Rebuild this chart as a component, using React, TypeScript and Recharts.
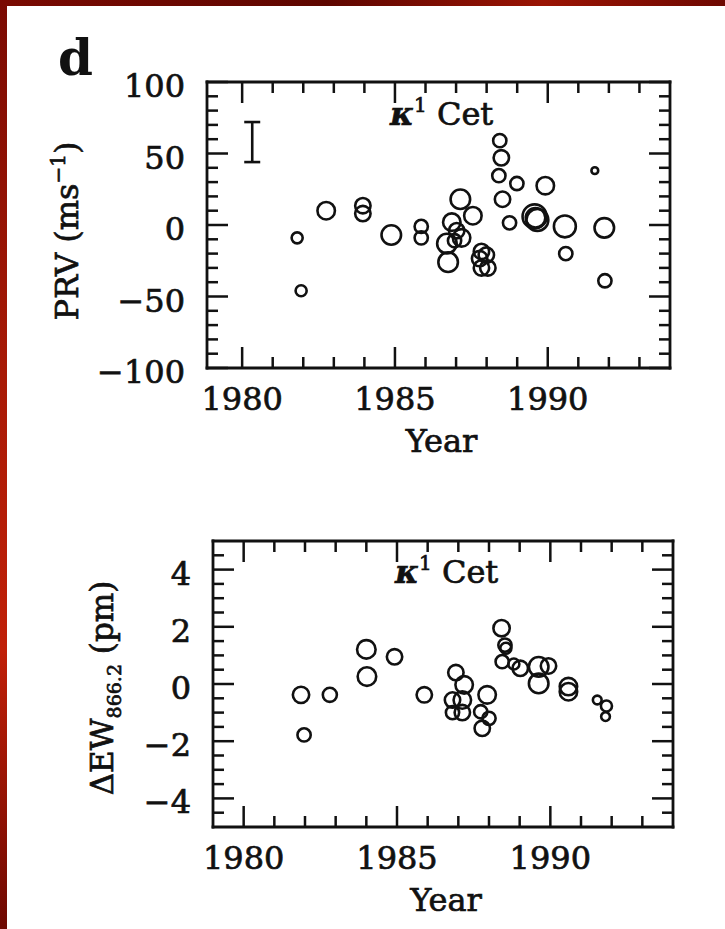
import { ScatterChart, Scatter, XAxis, YAxis, ZAxis, ErrorBar } from "recharts";

const FONT = "'DejaVu Serif', serif";
const INK = "#111";
const TXT = { fill: INK, stroke: INK, strokeWidth: 0.7 };

// PRV panel (kappa1 Cet): year, velocity (m/s), point weight
const prvYears = [
  1981.8, 1981.93, 1982.75, 1983.95, 1983.95, 1984.88, 1985.86, 1985.86,
  1987.14, 1987.55, 1986.86, 1986.7, 1986.74, 1987.02, 1987.18, 1986.95,
  1987.83, 1987.99, 1987.77, 1987.83, 1988.04,
  1988.43, 1988.48, 1988.4, 1988.52, 1988.75, 1988.99,
  1989.92, 1989.57, 1989.66, 1989.6, 1990.56, 1990.59,
  1991.54, 1991.85, 1991.87,
];
const prvValues = [
  -9, -46, 10, 13.5, 8, -7, -1, -9,
  18, 6.5, 2, -13, -26, -4, -9, -11,
  -18.5, -21, -23.5, -30, -30,
  59, 47, 34.5, 18, 1.5, 29,
  27.5, 6, 3.5, 5, -1, -20,
  38, -2, -39,
];
const prvWeights = [
  1.6, 1.6, 4, 3.1, 3.1, 5, 2.3, 2.3,
  5, 4, 4, 5, 5, 3.1, 4, 2.3,
  3.1, 3.1, 3.1, 3.1, 3.1,
  2.3, 3.1, 2.3, 3.1, 2.3, 2.3,
  4, 7.6, 6.3, 5, 6.3, 2.3,
  0.6, 5, 2.3,
];

// typical PRV uncertainty, drawn as the bar at upper left
const errYears = [1980.33];
const errValues = [58];
const errHalf = [14];

// Ca II 866.2 equivalent-width panel
const ewYears = [
  1981.87, 1981.97, 1982.81, 1984.0, 1984.02, 1984.92, 1985.89,
  1986.92, 1987.19, 1986.81, 1987.13, 1986.81, 1987.13,
  1987.94, 1987.73, 1988.0, 1987.78,
  1988.41, 1988.52, 1988.55, 1988.43, 1988.81, 1989.02,
  1989.62, 1989.62, 1989.94, 1990.59, 1990.59,
  1991.53, 1991.83, 1991.8,
];
const ewValues = [
  -0.38, -1.78, -0.38, 1.21, 0.26, 0.95, -0.38,
  0.4, -0.03, -0.56, -0.56, -1.0, -1.0,
  -0.38, -0.97, -1.2, -1.55,
  1.95, 1.36, 1.25, 0.78, 0.7, 0.55,
  0.6, 0.02, 0.63, -0.09, -0.27,
  -0.56, -0.77, -1.14,
];
const ewWeights = [
  3.5, 2.3, 2.6, 4.5, 4.5, 3.1, 3.1,
  3.1, 4, 3.1, 4, 2.3, 3.1,
  4, 2.3, 2.3, 3.1,
  3.5, 2.3, 1.6, 2.3, 1.6, 3.1,
  5, 5, 3.1, 4, 4,
  1, 1.6, 1,
];

const yearTicks = [1980, 1981, 1982, 1983, 1984, 1985, 1986, 1987, 1988, 1989, 1990, 1991, 1992, 1993];
const yearMajor = [1980, 1985, 1990];
const prvTicks = [-100, -90, -80, -70, -60, -50, -40, -30, -20, -10, 0, 10, 20, 30, 40, 50, 60, 70, 80, 90, 100];
const prvMajor = [-100, -50, 0, 50, 100];
const ewTicks = [-4.5, -4, -3.5, -3, -2.5, -2, -1.5, -1, -0.5, 0, 0.5, 1, 1.5, 2, 2.5, 3, 3.5, 4, 4.5];
const ewMajor = [-4, -2, 0, 2, 4];

const prvData = prvYears.map((year, i) => ({ year, v: prvValues[i], w: prvWeights[i] }));
const errData = errYears.map((year, i) => ({ year, v: errValues[i], e: errHalf[i] }));
const ewData = ewYears.map((year, i) => ({ year, v: ewValues[i], w: ewWeights[i] }));

const axisLine = { stroke: INK, strokeWidth: 2.8, strokeLinecap: "square" as const };
const fmt = (v: number) => (v < 0 ? "\u2212" + Math.abs(v) : String(v));

type Side = "bottom" | "top" | "left" | "right";

// inward ticks: long at majors, short elsewhere; labels only on bottom/left
function makeTick(side: Side, major: number[], labels: boolean) {
  return (props: any) => {
    const { x, y, payload } = props;
    const v = payload.value;
    const big = major.includes(v);
    const len = big ? 21 : 11;
    let line = null;
    if (side === "bottom") line = <line x1={x} y1={y} x2={x} y2={y - len} />;
    if (side === "top") line = <line x1={x} y1={y} x2={x} y2={y + len} />;
    if (side === "left") line = <line x1={x} y1={y} x2={x + len} y2={y} />;
    if (side === "right") line = <line x1={x} y1={y} x2={x - len} y2={y} />;
    let text = null;
    if (labels && big) {
      text =
        side === "bottom" ? (
          <text x={x} y={y + 42} textAnchor="middle" fontSize={32} fontFamily={FONT} {...TXT}>
            {fmt(v)}
          </text>
        ) : (
          <text x={x - 22} y={y + 15} textAnchor="end" fontSize={32} fontFamily={FONT} {...TXT}>
            {fmt(v)}
          </text>
        );
    }
    return (
      <g>
        <g stroke={INK} strokeWidth={2.5}>{line}</g>
        {text}
      </g>
    );
  };
}

const yearTitle = (props: any) => {
  const { x, y, width } = props.viewBox;
  return (
    <text x={x + width / 2 + 3} y={y + 84} textAnchor="middle" fontSize={32} fontFamily={FONT} {...TXT}>
      Year
    </text>
  );
};

const prvTitle = (props: any) => {
  const { x, y, height } = props.viewBox;
  const bx = x + 58;
  const by = y + height / 2 + 6;
  return (
    <text transform={`translate(${bx},${by}) rotate(-90)`} textAnchor="middle" fontSize={32} fontFamily={FONT} {...TXT}>
      PRV (ms
      <tspan fontSize={20} dy={-13}>{"\u22121"}</tspan>
      <tspan dy={13}>)</tspan>
    </text>
  );
};

const ewTitle = (props: any) => {
  const { x, y, height } = props.viewBox;
  const bx = x + 93;
  const by = y + height / 2 + 4;
  return (
    <text transform={`translate(${bx},${by}) rotate(-90)`} textAnchor="middle" fontSize={31} fontFamily={FONT} {...TXT}>
      {"\u0394EW"}
      <tspan fontSize={19} dy={8}>866.2</tspan>
      <tspan dy={-8}> (pm)</tspan>
    </text>
  );
};

const starTitle = (dx: number, dy: number) => (props: any) => {
  const { x, y, height } = props.viewBox;
  return (
    <text x={x + dx} y={y + height + dy} fontSize={32} fontFamily={FONT} {...TXT}>
      <tspan fontWeight="bold" fontStyle="italic">{"\u03BA"}</tspan>
      <tspan fontSize={20} dy={-13}>1</tspan>
      <tspan dy={13}> Cet</tspan>
    </text>
  );
};

const noMark = () => <g />;

function Panel(props: {
  data: { year: number; v: number; w: number }[];
  xDomain: [number, number];
  yDomain: [number, number];
  yTicks: number[];
  yMajor: number[];
  margin: { top: number; right: number; bottom: number; left: number };
  leftWidth: number;
  yTitle: (p: any) => any;
  star: (p: any) => any;
  withError?: boolean;
}) {
  const { data, xDomain, yDomain, yTicks, yMajor, margin, leftWidth } = props;
  return (
    <ScatterChart width={725} height={margin.top + margin.bottom + 10 + 85 + 286} margin={margin}>
      <XAxis
        xAxisId="b"
        type="number"
        dataKey="year"
        domain={xDomain}
        allowDataOverflow
        ticks={yearTicks}
        interval={0}
        tickSize={0}
        tickMargin={0}
        tickLine={false}
        axisLine={axisLine}
        tick={makeTick("bottom", yearMajor, true)}
        height={85}
        label={yearTitle}
      />
      <XAxis
        xAxisId="t"
        orientation="top"
        type="number"
        dataKey="year"
        domain={xDomain}
        allowDataOverflow
        ticks={yearTicks}
        interval={0}
        tickSize={0}
        tickMargin={0}
        tickLine={false}
        axisLine={axisLine}
        tick={makeTick("top", yearMajor, false)}
        height={10}
        label={props.star}
      />
      <YAxis
        yAxisId="l"
        type="number"
        dataKey="v"
        domain={yDomain}
        allowDataOverflow
        ticks={yTicks}
        interval={0}
        tickSize={0}
        tickMargin={0}
        tickLine={false}
        axisLine={axisLine}
        tick={makeTick("left", yMajor, true)}
        width={leftWidth}
        label={props.yTitle}
      />
      <YAxis
        yAxisId="r"
        orientation="right"
        type="number"
        dataKey="v"
        domain={yDomain}
        allowDataOverflow
        ticks={yTicks}
        interval={0}
        tickSize={0}
        tickMargin={0}
        tickLine={false}
        axisLine={axisLine}
        tick={makeTick("right", yMajor, false)}
        width={10}
      />
      <ZAxis dataKey="w" type="number" domain={[0, 9]} range={[0, 540]} />
      <Scatter
        data={data}
        xAxisId="b"
        yAxisId="l"
        shape="circle"
        fill="none"
        stroke={INK}
        strokeWidth={2.6}
        isAnimationActive={false}
      />
      {props.withError ? (
        <Scatter data={errData} xAxisId="t" yAxisId="r" shape={noMark} isAnimationActive={false}>
          <ErrorBar dataKey="e" direction="y" width={8} stroke={INK} strokeWidth={2.6} isAnimationActive={false} />
        </Scatter>
      ) : (
        <Scatter data={data} xAxisId="t" yAxisId="r" shape={noMark} isAnimationActive={false} />
      )}
    </ScatterChart>
  );
}

export default function App() {
  return (
    <div
      style={{
        position: "absolute",
        left: 0,
        top: 0,
        width: 725,
        height: 929,
        background: "#fff",
        overflow: "hidden",
      }}
    >
      <div
        style={{
          position: "absolute",
          left: 0,
          top: 0,
          width: 725,
          height: 6,
          background: "linear-gradient(90deg, #7a0a02, #5e0600 45%, #9a1404 75%, #6e0801)",
        }}
      />
      <div
        style={{
          position: "absolute",
          left: 0,
          top: 0,
          width: 7,
          height: 929,
          background: "linear-gradient(180deg, #7a0a02, #a81a06 40%, #c02008 70%, #6e0801)",
        }}
      />
      <svg width={725} height={100} style={{ position: "absolute", left: 0, top: 0 }}>
        <text x={58} y={75} fontSize={50} fontWeight="bold" fontFamily={FONT} fill={INK}>
          d
        </text>
      </svg>
      <div style={{ position: "absolute", left: 0, top: 0 }}>
        <Panel
          data={prvData}
          xDomain={[1978.85, 1994]}
          yDomain={[-100, 100]}
          yTicks={prvTicks}
          yMajor={prvMajor}
          margin={{ top: 72, right: 45, bottom: 17, left: 20 }}
          leftWidth={187}
          yTitle={prvTitle}
          star={starTitle(183, 43)}
          withError
        />
      </div>
      <div style={{ position: "absolute", left: 0, top: 470 }}>
        <Panel
          data={ewData}
          xDomain={[1979, 1994]}
          yDomain={[-5, 5]}
          yTicks={ewTicks}
          yMajor={ewMajor}
          margin={{ top: 61, right: 42, bottom: 17, left: 20 }}
          leftWidth={193}
          yTitle={ewTitle}
          star={starTitle(182, 42)}
        />
      </div>
    </div>
  );
}
